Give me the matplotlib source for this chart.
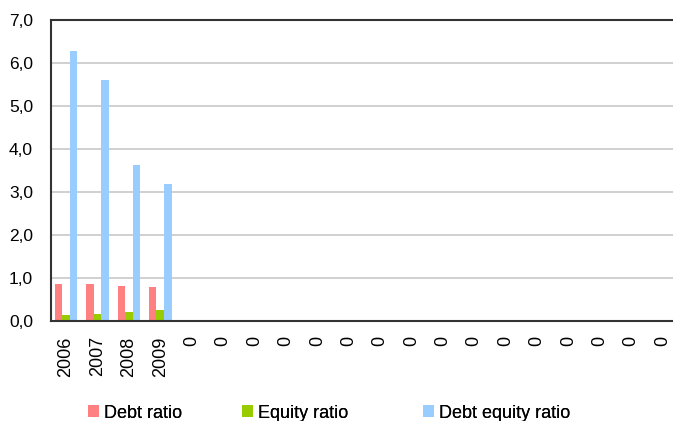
import matplotlib

matplotlib.use("Agg")
import matplotlib.pyplot as plt
import numpy as np
from matplotlib.ticker import FuncFormatter

plt.rcParams["font.family"] = ["Liberation Sans", "DejaVu Sans"]

# category labels: four real years, the rest of the sheet is empty (shown as 0)
categories = ["2006", "2007", "2008", "2009"] + ["0"] * 16
debt_ratio = [0.85, 0.85, 0.81, 0.78] + [0] * 16
equity_ratio = [0.13, 0.155, 0.22, 0.25] + [0] * 16
debt_equity_ratio = [6.27, 5.60, 3.62, 3.18] + [0] * 16

series = [
    ("Debt ratio", debt_ratio, "#FF8080"),
    ("Equity ratio", equity_ratio, "#99CC00"),
    ("Debt equity ratio", debt_equity_ratio, "#99CCFF"),
]

fig = plt.figure(figsize=(6.73, 4.21), dpi=100)
ax = fig.add_axes([51 / 673, 0.2375, 1 - 51 / 673, 0.9525 - 0.2375])

x = np.arange(len(categories))
w = 0.24
handles = []
for i, (name, vals, col) in enumerate(series):
    h = ax.bar(x + (i - 1) * w, vals, width=w, color=col, label=name, zorder=2)
    handles.append(h)

ax.set_ylim(0, 7)
ax.set_xlim(-0.48, 19.33)
ax.set_yticks(np.arange(0, 7.1, 1))
ax.yaxis.set_major_formatter(FuncFormatter(lambda v, _: f"{v:.1f}".replace(".", ",")))
ax.set_xticks(x)
ax.set_xticklabels(categories, rotation=90)
ax.tick_params(axis="y", length=0, pad=13, labelsize=12.5, colors="#000000")
ax.tick_params(axis="x", length=0, pad=11, labelsize=13)

ax.grid(axis="y", color="#C8C8C8", lw=1.2, zorder=0)
ax.set_axisbelow(True)
for s in ("left", "bottom", "top"):
    ax.spines[s].set_color("#333333")
    ax.spines[s].set_linewidth(1.5)
    ax.spines[s].set_zorder(3)
ax.spines["right"].set_visible(False)

# one legend entry per slot, spread across the bottom like the spreadsheet does
for h, (name, _, _), xpos in zip(handles, series, (88, 242, 423)):
    leg = fig.legend(handles=[h], labels=[name], loc="center left",
                     bbox_to_anchor=(xpos / 673, 0.019), frameon=False,
                     fontsize=13, handlelength=0.6, handleheight=0.66,
                     handletextpad=0.3, borderpad=0, borderaxespad=0)
    fig.add_artist(leg)

fig.savefig("out.png", dpi=100)
plt.close(fig)
